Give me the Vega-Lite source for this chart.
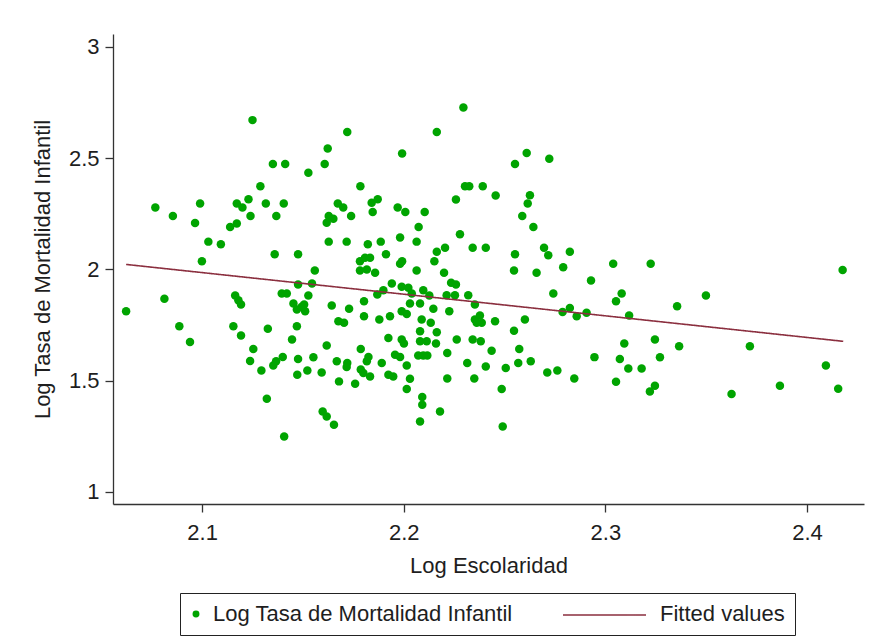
{
  "$schema": "https://vega.github.io/schema/vega-lite/v6.json",
  "width": 751,
  "height": 470,
  "padding": {"left": 31, "top": 34, "right": 11, "bottom": 5},
  "background": "white",
  "config": {
    "view": {"stroke": null},
    "font": "Liberation Sans"
  },
  "datasets": {
    "pts": [
      {"esc": 2.125, "tmi": 2.671}, {"esc": 2.1623, "tmi": 2.544}, {"esc": 2.1351, "tmi": 2.474}, {"esc": 2.1412, "tmi": 2.474},
      {"esc": 2.1608, "tmi": 2.474}, {"esc": 2.1527, "tmi": 2.434}, {"esc": 2.1289, "tmi": 2.374}, {"esc": 2.0768, "tmi": 2.278},
      {"esc": 2.0855, "tmi": 2.24}, {"esc": 2.099, "tmi": 2.296}, {"esc": 2.0965, "tmi": 2.209}, {"esc": 2.1172, "tmi": 2.296},
      {"esc": 2.12, "tmi": 2.278}, {"esc": 2.123, "tmi": 2.315}, {"esc": 2.124, "tmi": 2.24}, {"esc": 2.1316, "tmi": 2.296},
      {"esc": 2.1368, "tmi": 2.24}, {"esc": 2.1405, "tmi": 2.296}, {"esc": 2.1139, "tmi": 2.191}, {"esc": 2.1172, "tmi": 2.206},
      {"esc": 2.1031, "tmi": 2.125}, {"esc": 2.1093, "tmi": 2.113}, {"esc": 2.0999, "tmi": 2.037}, {"esc": 2.136, "tmi": 2.068},
      {"esc": 2.1476, "tmi": 2.068}, {"esc": 2.1559, "tmi": 1.995}, {"esc": 2.1628, "tmi": 2.125}, {"esc": 2.1673, "tmi": 2.296},
      {"esc": 2.1628, "tmi": 2.24}, {"esc": 2.1651, "tmi": 2.228}, {"esc": 2.1618, "tmi": 2.21},
      {"esc": 2.1476, "tmi": 1.932}, {"esc": 2.1545, "tmi": 1.937}, {"esc": 2.0623, "tmi": 1.812}, {"esc": 2.0813, "tmi": 1.868},
      {"esc": 2.0887, "tmi": 1.745}, {"esc": 2.094, "tmi": 1.674}, {"esc": 2.1164, "tmi": 1.883}, {"esc": 2.118, "tmi": 1.862},
      {"esc": 2.1193, "tmi": 1.842}, {"esc": 2.1155, "tmi": 1.745}, {"esc": 2.1193, "tmi": 1.703}, {"esc": 2.1326, "tmi": 1.733},
      {"esc": 2.1254, "tmi": 1.643}, {"esc": 2.1238, "tmi": 1.589}, {"esc": 2.1294, "tmi": 1.546}, {"esc": 2.1353, "tmi": 1.568},
      {"esc": 2.1367, "tmi": 1.587}, {"esc": 2.14, "tmi": 1.607}, {"esc": 2.1395, "tmi": 1.892}, {"esc": 2.142, "tmi": 1.892},
      {"esc": 2.1453, "tmi": 1.847}, {"esc": 2.147, "tmi": 1.82}, {"esc": 2.1494, "tmi": 1.832}, {"esc": 2.1511, "tmi": 1.812},
      {"esc": 2.1506, "tmi": 1.842}, {"esc": 2.1527, "tmi": 1.883}, {"esc": 2.147, "tmi": 1.745}, {"esc": 2.1446, "tmi": 1.685},
      {"esc": 2.1476, "tmi": 1.598}, {"esc": 2.1472, "tmi": 1.527}, {"esc": 2.1522, "tmi": 1.546}, {"esc": 2.1552, "tmi": 1.605},
      {"esc": 2.1593, "tmi": 1.537}, {"esc": 2.1618, "tmi": 1.658}, {"esc": 2.1643, "tmi": 1.838}, {"esc": 2.1676, "tmi": 1.767},
      {"esc": 2.1668, "tmi": 1.587}, {"esc": 2.1679, "tmi": 1.497}, {"esc": 2.1321, "tmi": 1.419}, {"esc": 2.1598, "tmi": 1.362},
      {"esc": 2.1618, "tmi": 1.339}, {"esc": 2.1654, "tmi": 1.302}, {"esc": 2.1407, "tmi": 1.249},
      {"esc": 2.2296, "tmi": 2.728}, {"esc": 2.172, "tmi": 2.618}, {"esc": 2.2164, "tmi": 2.618}, {"esc": 2.1992, "tmi": 2.521},
      {"esc": 2.261, "tmi": 2.523}, {"esc": 2.2552, "tmi": 2.474}, {"esc": 2.2722, "tmi": 2.497}, {"esc": 2.1785, "tmi": 2.374},
      {"esc": 2.2304, "tmi": 2.374}, {"esc": 2.2325, "tmi": 2.374}, {"esc": 2.2392, "tmi": 2.374}, {"esc": 2.2456, "tmi": 2.332},
      {"esc": 2.2259, "tmi": 2.314}, {"esc": 2.2626, "tmi": 2.333}, {"esc": 2.2615, "tmi": 2.296}, {"esc": 2.2588, "tmi": 2.24},
      {"esc": 2.2643, "tmi": 2.191}, {"esc": 2.17, "tmi": 2.278}, {"esc": 2.1739, "tmi": 2.24}, {"esc": 2.1871, "tmi": 2.315},
      {"esc": 2.1841, "tmi": 2.3}, {"esc": 2.1846, "tmi": 2.258}, {"esc": 2.197, "tmi": 2.278}, {"esc": 2.2008, "tmi": 2.258},
      {"esc": 2.2104, "tmi": 2.258}, {"esc": 2.2074, "tmi": 2.191}, {"esc": 2.1717, "tmi": 2.125}, {"esc": 2.1822, "tmi": 2.113},
      {"esc": 2.1886, "tmi": 2.125}, {"esc": 2.1982, "tmi": 2.144}, {"esc": 2.2064, "tmi": 2.125}, {"esc": 2.1912, "tmi": 2.068},
      {"esc": 2.1783, "tmi": 2.037}, {"esc": 2.1808, "tmi": 2.053}, {"esc": 2.1833, "tmi": 2.053}, {"esc": 2.1783, "tmi": 1.995},
      {"esc": 2.1817, "tmi": 2.0}, {"esc": 2.1858, "tmi": 1.985}, {"esc": 2.1992, "tmi": 2.037}, {"esc": 2.1982, "tmi": 2.026},
      {"esc": 2.2064, "tmi": 1.995}, {"esc": 2.2205, "tmi": 2.098}, {"esc": 2.2164, "tmi": 2.08}, {"esc": 2.2152, "tmi": 2.037},
      {"esc": 2.22, "tmi": 1.985}, {"esc": 2.2279, "tmi": 2.158}, {"esc": 2.2342, "tmi": 2.098}, {"esc": 2.2407, "tmi": 2.098},
      {"esc": 2.2552, "tmi": 2.068}, {"esc": 2.2547, "tmi": 1.995}, {"esc": 2.2696, "tmi": 2.098}, {"esc": 2.2717, "tmi": 2.064},
      {"esc": 2.2659, "tmi": 1.985}, {"esc": 2.2824, "tmi": 2.08}, {"esc": 2.2791, "tmi": 2.01},
      {"esc": 2.1941, "tmi": 1.937}, {"esc": 2.199, "tmi": 1.922}, {"esc": 2.2023, "tmi": 1.918}, {"esc": 2.1899, "tmi": 1.907},
      {"esc": 2.1869, "tmi": 1.887}, {"esc": 2.204, "tmi": 1.892}, {"esc": 2.2097, "tmi": 1.907}, {"esc": 2.2127, "tmi": 1.883},
      {"esc": 2.2235, "tmi": 1.94}, {"esc": 2.2259, "tmi": 1.932}, {"esc": 2.2213, "tmi": 1.884}, {"esc": 2.2254, "tmi": 1.884},
      {"esc": 2.232, "tmi": 1.884}, {"esc": 2.2353, "tmi": 1.842}, {"esc": 2.2031, "tmi": 1.847}, {"esc": 2.2081, "tmi": 1.847},
      {"esc": 2.2147, "tmi": 1.823}, {"esc": 2.199, "tmi": 1.812}, {"esc": 2.2015, "tmi": 1.8}, {"esc": 2.1932, "tmi": 1.79},
      {"esc": 2.1879, "tmi": 1.775}, {"esc": 2.1803, "tmi": 1.857}, {"esc": 2.1729, "tmi": 1.823}, {"esc": 2.1803, "tmi": 1.79},
      {"esc": 2.1704, "tmi": 1.76}, {"esc": 2.2089, "tmi": 1.775}, {"esc": 2.2134, "tmi": 1.76}, {"esc": 2.2226, "tmi": 1.812},
      {"esc": 2.2353, "tmi": 1.775}, {"esc": 2.2378, "tmi": 1.793}, {"esc": 2.2387, "tmi": 1.76}, {"esc": 2.2362, "tmi": 1.76},
      {"esc": 2.2453, "tmi": 1.767}, {"esc": 2.2601, "tmi": 1.775}, {"esc": 2.2547, "tmi": 1.725}, {"esc": 2.2742, "tmi": 1.892},
      {"esc": 2.2788, "tmi": 1.809}, {"esc": 2.2824, "tmi": 1.827}, {"esc": 2.2858, "tmi": 1.79}, {"esc": 2.2907, "tmi": 1.805},
      {"esc": 2.1924, "tmi": 1.692}, {"esc": 2.199, "tmi": 1.685}, {"esc": 2.2001, "tmi": 1.667}, {"esc": 2.2081, "tmi": 1.722},
      {"esc": 2.2081, "tmi": 1.677}, {"esc": 2.2114, "tmi": 1.677}, {"esc": 2.2164, "tmi": 1.718}, {"esc": 2.216, "tmi": 1.667},
      {"esc": 2.2263, "tmi": 1.685}, {"esc": 2.2342, "tmi": 1.685}, {"esc": 2.2382, "tmi": 1.677}, {"esc": 2.2436, "tmi": 1.635},
      {"esc": 2.2573, "tmi": 1.643}, {"esc": 2.1787, "tmi": 1.643}, {"esc": 2.1825, "tmi": 1.607}, {"esc": 2.1817, "tmi": 1.587},
      {"esc": 2.1957, "tmi": 1.617}, {"esc": 2.1982, "tmi": 1.607}, {"esc": 2.2072, "tmi": 1.613}, {"esc": 2.2097, "tmi": 1.613},
      {"esc": 2.2117, "tmi": 1.613}, {"esc": 2.2216, "tmi": 1.625}, {"esc": 2.172, "tmi": 1.58}, {"esc": 2.1717, "tmi": 1.562},
      {"esc": 2.1787, "tmi": 1.55}, {"esc": 2.18, "tmi": 1.535}, {"esc": 2.1833, "tmi": 1.519}, {"esc": 2.1891, "tmi": 1.58},
      {"esc": 2.1924, "tmi": 1.527}, {"esc": 2.1948, "tmi": 1.519}, {"esc": 2.2015, "tmi": 1.568}, {"esc": 2.2031, "tmi": 1.509},
      {"esc": 2.2015, "tmi": 1.463}, {"esc": 2.1759, "tmi": 1.486}, {"esc": 2.2216, "tmi": 1.51}, {"esc": 2.2315, "tmi": 1.58},
      {"esc": 2.2407, "tmi": 1.564}, {"esc": 2.235, "tmi": 1.51}, {"esc": 2.2506, "tmi": 1.557}, {"esc": 2.2568, "tmi": 1.58},
      {"esc": 2.263, "tmi": 1.587}, {"esc": 2.2486, "tmi": 1.463}, {"esc": 2.2712, "tmi": 1.537}, {"esc": 2.2762, "tmi": 1.546},
      {"esc": 2.2846, "tmi": 1.51}, {"esc": 2.2092, "tmi": 1.427}, {"esc": 2.2092, "tmi": 1.392}, {"esc": 2.218, "tmi": 1.362},
      {"esc": 2.2081, "tmi": 1.317}, {"esc": 2.2491, "tmi": 1.294},
      {"esc": 2.2929, "tmi": 1.95}, {"esc": 2.3039, "tmi": 2.026}, {"esc": 2.3225, "tmi": 2.026}, {"esc": 2.3053, "tmi": 1.857},
      {"esc": 2.3081, "tmi": 1.892}, {"esc": 2.3118, "tmi": 1.793}, {"esc": 2.3356, "tmi": 1.835}, {"esc": 2.3499, "tmi": 1.883},
      {"esc": 2.4177, "tmi": 1.997}, {"esc": 2.3094, "tmi": 1.667}, {"esc": 2.3246, "tmi": 1.685}, {"esc": 2.3366, "tmi": 1.655},
      {"esc": 2.3717, "tmi": 1.655}, {"esc": 2.2946, "tmi": 1.606}, {"esc": 2.3072, "tmi": 1.598}, {"esc": 2.3114, "tmi": 1.555},
      {"esc": 2.318, "tmi": 1.555}, {"esc": 2.3271, "tmi": 1.605}, {"esc": 2.3053, "tmi": 1.495}, {"esc": 2.3246, "tmi": 1.477},
      {"esc": 2.3221, "tmi": 1.452}, {"esc": 2.3626, "tmi": 1.44}, {"esc": 2.3866, "tmi": 1.477}, {"esc": 2.4094, "tmi": 1.568},
      {"esc": 2.4155, "tmi": 1.464}
    ],
    "fit": [
      {"esc": 2.0623, "tmi": 2.0225},
      {"esc": 2.418, "tmi": 1.677}
    ]
  },
  "encoding": {
    "x": {
      "field": "esc",
      "type": "quantitative",
      "scale": {"domain": [2.0558, 2.4283], "nice": false, "zero": false},
      "axis": {
        "title": "Log Escolaridad",
        "values": [2.1, 2.2, 2.3, 2.4],
        "format": ".1f",
        "grid": false,
        "tickSize": 8,
        "tickColor": "#333333",
        "domainColor": "#333333",
        "domainWidth": 1.3,
        "tickWidth": 1.3,
        "labelPadding": 10,
        "labelFont": "Liberation Sans",
        "labelFontSize": 22,
        "labelColor": "#1e1e1e",
        "labelFlush": false,
        "labelOverlap": false,
        "titleFont": "Liberation Sans",
        "titleFontSize": 22,
        "titleFontWeight": "normal",
        "titleColor": "#1e1e1e",
        "titlePadding": 12
      }
    },
    "y": {
      "field": "tmi",
      "type": "quantitative",
      "scale": {"domain": [0.946, 3.058], "nice": false, "zero": false},
      "axis": {
        "title": "Log Tasa de Mortalidad Infantil",
        "values": [1, 1.5, 2, 2.5, 3],
        "format": "~g",
        "grid": false,
        "tickSize": 8,
        "tickColor": "#333333",
        "domainColor": "#333333",
        "domainWidth": 1.3,
        "tickWidth": 1.3,
        "labelPadding": 6,
        "labelFont": "Liberation Sans",
        "labelFontSize": 22,
        "labelColor": "#1e1e1e",
        "labelFlush": false,
        "labelOverlap": false,
        "titleFont": "Liberation Sans",
        "titleFontSize": 22,
        "titleFontWeight": "normal",
        "titleColor": "#1e1e1e",
        "titlePadding": 14
      }
    }
  },
  "layer": [
    {
      "data": {"name": "pts"},
      "mark": {"type": "circle", "size": 72, "opacity": 1},
      "encoding": {
        "color": {
          "datum": "Log Tasa de Mortalidad Infantil",
          "type": "nominal",
          "scale": {
            "domain": ["Log Tasa de Mortalidad Infantil", "Fitted values"],
            "range": ["#00a400", "rgba(0,0,0,0)"]
          },
          "legend": {
            "title": null,
            "orient": "none",
            "legendX": 67,
            "legendY": 559,
            "direction": "horizontal",
            "padding": 10,
            "fillColor": "white",
            "strokeColor": "#222222",
            "cornerRadius": 0,
            "labelFont": "Liberation Sans",
            "labelFontSize": 22,
            "labelColor": "#1e1e1e",
            "labelOffset": 6,
            "labelLimit": 500,
            "columnPadding": 124,
            "symbolSize": 48,
            "symbolStrokeWidth": 0,
            "symbolOffset": -5,
            "symbolType": "circle"
          }
        }
      }
    },
    {
      "data": {"name": "fit"},
      "mark": {"type": "line", "strokeWidth": 1.6, "color": "#8b2f3f"},
      "encoding": {
        "strokeDash": {
          "datum": "Fitted values",
          "type": "nominal",
          "scale": {"domain": ["Fitted values"], "range": [[1, 0]]},
          "legend": {
            "title": null,
            "orient": "none",
            "legendX": 449,
            "legendY": 538.5,
            "padding": 0,
            "labelExpr": "''",
            "labelOffset": 0,
            "labelFontSize": 22,
            "symbolType": "stroke",
            "symbolSize": 6889,
            "symbolStrokeWidth": 1.6,
            "symbolStrokeColor": "#8b2f3f",
            "symbolOffset": 0
          }
        }
      }
    }
  ]
}
